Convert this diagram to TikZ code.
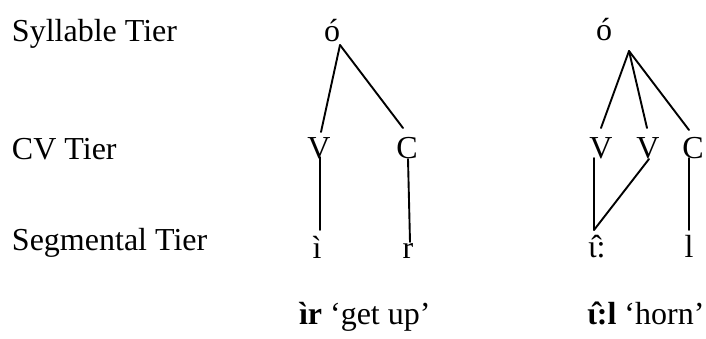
\documentclass[tikz,border=0pt]{standalone}
\usepackage{fontspec}
\setmainfont{Liberation Serif}
\begin{document}
\begin{tikzpicture}[x=1pt,y=-1pt,
  every node/.style={inner sep=0pt,outer sep=0pt,font=\fontsize{32}{38}\selectfont},
  tier/.style={anchor=base west},
  seg/.style={anchor=base},
  assoc/.style={line width=1.9pt,line cap=round}]
\useasboundingbox (0,0) rectangle (706,338);

% tier labels
\node[tier] (labS) at (12,41) {Syllable Tier};
\node[tier] (labCV) at (12,159) {CV Tier};
\node[tier] (labSeg) at (12,250) {Segmental Tier};

% first word
\node[seg] (o1) at (332,41) {ó};
\node[seg] (v1) at (319,158) {V};
\node[seg] (c1) at (407,158) {C};
\node[seg] (i1) at (317,258) {ì};
\node[seg] (r1) at (408,258) {r};

\draw[assoc] ([shift={(8,4)}]o1.base) -- ([shift={(2,-26)}]v1.base);
\draw[assoc] ([shift={(8,4)}]o1.base) -- ([shift={(-4,-30)}]c1.base);
\draw[assoc] ([shift={(1,-1)}]v1.base) -- ([shift={(3,-28)}]i1.base);
\draw[assoc] ([shift={(1,1)}]c1.base) -- ([shift={(2,-16)}]r1.base);

% second word
\node[seg] (o2) at (604,40) {ó};
\node[seg] (v2) at (601,158) {V};
\node[seg] (w2) at (648,158) {V};
\node[seg] (c2) at (693,158) {C};
\node[tier] (i2) at (588,257) {ɩ̂:};
\node[seg] (l2) at (689,257) {l};

\draw[assoc] ([shift={(25,11)}]o2.base) -- ([shift={(0,-30)}]v2.base);
\draw[assoc] ([shift={(25,11)}]o2.base) -- ([shift={(-1,-30)}]w2.base);
\draw[assoc] ([shift={(25,11)}]o2.base) -- ([shift={(-4,-28)}]c2.base);
\draw[assoc] ([shift={(-7,0)}]v2.base) -- ([shift={(6,-27)}]i2.base west);
\draw[assoc] ([shift={(1,1)}]w2.base) -- ([shift={(6,-27)}]i2.base west);
\draw[assoc] ([shift={(-4,0)}]c2.base) -- ([shift={(0,-27)}]l2.base);

% glosses
\node[tier] (g1) at (299,324) {\textbf{ìr} ‘get up’};
\node[tier] (g2) at (587,324) {\textbf{ɩ̂:l} ‘horn’};
\end{tikzpicture}
\end{document}
